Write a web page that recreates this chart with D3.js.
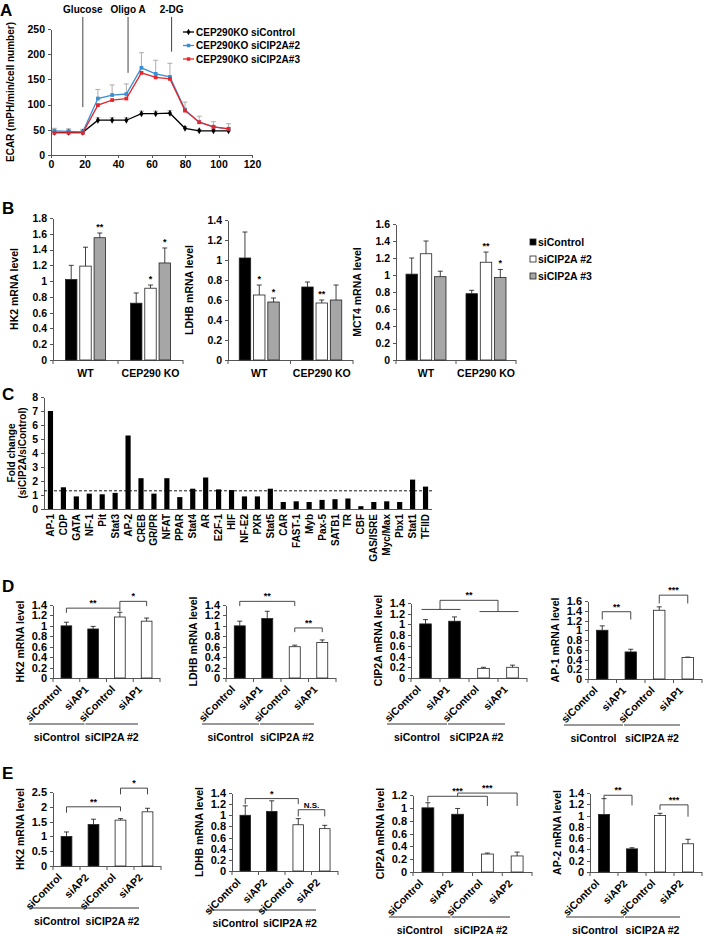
<!DOCTYPE html>
<html><head><meta charset="utf-8">
<script src="https://cdnjs.cloudflare.com/ajax/libs/d3/7.8.5/d3.min.js"></script>
<style>
body{margin:0;background:#fff}
svg text{font-family:"Liberation Sans",Arial,sans-serif;font-weight:bold;fill:#000}
.axis path,.axis line{stroke:#555;shape-rendering:crispEdges}
</style></head><body><div id="fig"></div>
<script>
// ---------------- data ----------------
// A: ECAR time course
var timePts   = [2, 10.5, 19, 28, 36.5, 45, 54, 62.5, 71, 80, 88.5, 97, 106];
var ecarCtrl  = [45, 45, 45, 69, 69, 69, 82, 82, 83, 53, 48, 48, 48];
var ecarCtrlE = [4, 4, 4, 5, 5, 5, 5, 5, 5, 3, 3, 3, 3];
var ecar2     = [48, 47, 46, 112, 119, 121, 173, 161, 155, 90, 65, 56, 52];
var ecar2E    = [5, 5, 5, 18, 20, 20, 30, 27, 27, 15, 12, 10, 10];
var ecar3     = [44, 44, 44, 99, 109, 112, 163, 154, 151, 88, 65, 56, 52];
var ecarNames = ["CEP290KO siControl", "CEP290KO siCIP2A#2", "CEP290KO siCIP2A#3"];
var injNames  = ["Glucose", "Oligo A", "2-DG"];
var injTimes  = [19, 46, 72];
var injLow    = [95, 163, 205];

// B: mRNA levels, WT vs CEP290 KO
var bGroups = ["WT", "CEP290 KO"];
var bSeries = ["siControl", "siCIP2A #2", "siCIP2A #3"];
var hk2B    = [[1.02, 1.19, 1.55], [0.72, 0.91, 1.23]];
var hk2BE   = [[0.18, 0.24, 0.06], [0.13, 0.04, 0.19]];
var hk2BSig = [["", "", "**"], ["", "*", "*"]];
var ldhbB    = [[1.02, 0.65, 0.58], [0.73, 0.57, 0.60]];
var ldhbBE   = [[0.26, 0.10, 0.04], [0.05, 0.03, 0.15]];
var ldhbBSig = [["", "*", "*"], ["", "**", ""]];
var mct4B    = [[1.01, 1.25, 0.98], [0.78, 1.15, 0.97]];
var mct4BE   = [[0.19, 0.15, 0.065], [0.04, 0.12, 0.095]];
var mct4BSig = [["", "", ""], ["", "**", "*"]];

// C: fold change of TF binding
var tfNames = ["AP-1","CDP","GATA","NF-1","Pit","Stat3","AP-2","CREB","GR/PR","NFAT","PPAR","Stat4","AR","E2F-1","HIF",
  "NF-E2","PXR","Stat5","CAR","FAST-1","Myb","Pax-5","SATB1","TR","CBF","GAS/ISRE","Myc/Max","Pbx1","Stat1","TFIID"];
var tfFold = [7.0,1.55,0.9,1.1,1.05,1.15,5.25,2.2,1.1,2.2,0.85,1.45,2.25,1.4,1.35,
  0.9,0.9,1.45,0.5,0.55,0.5,0.65,0.7,0.75,0.2,0.5,0.55,0.5,2.1,1.6];
var foldCut = 1.3;

// D / E: knockdown experiments
var groupNames = ["siControl", "siCIP2A #2"];
var dLabels = ["siControl", "siAP1", "siControl", "siAP1"];
var eLabels = ["siControl", "siAP2", "siControl", "siAP2"];
var hk2D   = [1.0, 0.94, 1.17, 1.09],  hk2DE   = [0.07, 0.05, 0.09, 0.06];
var ldhbD  = [1.0, 1.14, 0.60, 0.68],  ldhbDE  = [0.09, 0.14, 0.03, 0.05];
var cip2aD = [1.01, 1.06, 0.18, 0.20], cip2aDE = [0.08, 0.08, 0.02, 0.04];
var ap1D   = [1.0, 0.555, 1.41, 0.44], ap1DE   = [0.09, 0.055, 0.07, 0.01];
var hk2E   = [1.0, 1.40, 1.55, 1.83],  hk2EE   = [0.15, 0.18, 0.05, 0.12];
var ldhbE  = [1.0, 1.07, 0.83, 0.76],  ldhbEE  = [0.17, 0.19, 0.11, 0.06];
var cip2aE = [1.0, 0.90, 0.28, 0.25],  cip2aEE = [0.08, 0.09, 0.015, 0.06];
var ap2E   = [1.02, 0.41, 1.0, 0.50],  ap2EE   = [0.28, 0.02, 0.04, 0.08];
// brackets: bar a to bar b, line level, leg ends (data units)
var hk2DBr  = [{a:0,b:2,y:1.34,ya:1.25,yb:1.28,t:"**"}, {a:2,b:3,y:1.47,ya:1.34,yb:1.38,t:"*"}];
var ldhbDBr = [{a:0,b:2,y:1.47,ya:1.38,yb:1.38,t:"**"}, {a:2,b:3,y:0.96,ya:0.88,yb:0.88,t:"**"}];
var cip2aDBr = {left:1.28, right:1.24, top:1.45, t:"**"};
var ap1DBr  = [{a:0,b:1,y:1.38,ya:1.22,yb:1.22,t:"**"}, {a:2,b:3,y:1.72,ya:1.55,yb:1.55,t:"***"}];
var hk2EBr  = [{a:0,b:2,y:2.0,ya:1.8,yb:1.85,t:"**"}, {a:2,b:3,y:2.63,ya:2.42,yb:2.42,t:"*"}];
var ldhbEBr = [{a:0,b:2,y:1.3,ya:1.2,yb:1.2,t:"*"}, {a:2,b:3,y:1.1,ya:0.98,yb:0.98,t:"N.S."}];
var cip2aEBr = [{a:0,b:2,y:1.18,ya:1.1,yb:1.03,t:"***"}, {a:1,b:3,y:1.23,ya:1.18,yb:1.03,t:"***"}];
var ap2EBr  = [{a:0,b:1,y:1.36,ya:1.3,yb:1.18,t:"**"}, {a:2,b:3,y:1.19,ya:1.1,yb:0.98,t:"***"}];

// ---------------- drawing ----------------
var svg = d3.select("#fig").append("svg").attr("width", 709).attr("height", 936);
var ink = "#111", axisCol = "#555";

function tickVals(max, step) {
  return d3.range(0, max + step / 2, step).map(function(v) { return +v.toFixed(2); });
}
function letter(t, x, y) {
  svg.append("text").attr("x", x).attr("y", y).style("font-size", "17px").text(t);
}
function yLabel(g, lines, x, yc, size) {
  lines.forEach(function(s, i) {
    g.append("text").attr("transform", "translate(" + (x + i * 11) + "," + yc + ") rotate(-90)")
      .attr("text-anchor", "middle").attr("dy", "0.35em").style("font-size", size + "px").text(s);
  });
}
function leftAxis(g, y, x, vals, size) {
  var a = g.append("g").attr("class", "axis").attr("transform", "translate(" + x + ",0)")
    .call(d3.axisLeft(y).tickValues(vals).tickSize(3).tickSizeOuter(0).tickFormat(d3.format("~g")));
  a.selectAll("text").style("font-size", size + "px");
  return a;
}
function errBar(g, cx, y1, y2, w, col) {
  g.append("line").attr("x1", cx).attr("x2", cx).attr("y1", y1).attr("y2", y2).attr("stroke", col || ink).attr("stroke-width", 0.8);
  g.append("line").attr("x1", cx - w).attr("x2", cx + w).attr("y1", y2).attr("y2", y2).attr("stroke", col || ink).attr("stroke-width", 0.8);
}

// ===== Panel A =====
letter("A", 0, 16);
var gA = svg.append("g");
var ax = d3.scaleLinear().domain([0, 120]).range([51, 252]);
var ay = d3.scaleLinear().domain([0, 250]).range([155, 29]);
leftAxis(gA, ay, ax(0), d3.range(0, 251, 50), 10.5);
var xa = gA.append("g").attr("class", "axis").attr("transform", "translate(0," + ay(0) + ")")
  .call(d3.axisBottom(ax).tickValues(d3.range(0, 121, 20)).tickSize(3).tickSizeOuter(0));
xa.selectAll("text").style("font-size", "10.5px");
yLabel(gA, ["ECAR (mPH/min/cell number)"], 10, 92, 10);

injTimes.forEach(function(t, i) {
  gA.append("line").attr("x1", ax(t)).attr("x2", ax(t)).attr("y1", ay(274)).attr("y2", ay(injLow[i]))
    .attr("stroke", "#444").attr("stroke-width", 1);
  gA.append("text").attr("x", ax(t)).attr("y", 13).attr("text-anchor", "middle").style("font-size", "10px").text(injNames[i]);
});

var aSeries = [
  {v: ecarCtrl, e: ecarCtrlE, c: "#000", sym: d3.symbolDiamond},
  {v: ecar2, e: ecar2E, c: "#3a8fd4", sym: d3.symbolSquare},
  {v: ecar3, e: null, c: "#e5262c", sym: d3.symbolSquare}
];
aSeries.forEach(function(s) {
  if (!s.e) return;
  s.v.forEach(function(v, i) { errBar(gA, ax(timePts[i]), ay(v), ay(v + s.e[i]), 2.5, "#999"); });
});
var lineA = d3.line().x(function(d, i) { return ax(timePts[i]); }).y(function(d) { return ay(d); });
aSeries.forEach(function(s) {
  gA.append("path").datum(s.v).attr("d", lineA).attr("fill", "none").attr("stroke", s.c).attr("stroke-width", 1.3);
  gA.selectAll(null).data(s.v).enter().append("path")
    .attr("transform", function(d, i) { return "translate(" + ax(timePts[i]) + "," + ay(d) + ")"; })
    .attr("d", d3.symbol().type(s.sym).size(14)).attr("fill", s.c);
});
ecarNames.forEach(function(n, i) {
  var ly = 32 + i * 13.5;
  gA.append("line").attr("x1", 183).attr("x2", 194).attr("y1", ly).attr("y2", ly).attr("stroke", aSeries[i].c).attr("stroke-width", 1.3);
  gA.append("path").attr("transform", "translate(188.5," + ly + ")").attr("d", d3.symbol().type(aSeries[i].sym).size(12)).attr("fill", aSeries[i].c);
  gA.append("text").attr("x", 196).attr("y", ly).attr("dy", "0.35em").style("font-size", "10px").text(n);
});

// ===== Panel B =====
letter("B", 2, 214);
var bFill = ["#000", "#fff", "#a6a6a6"];
function panelB(cfg, vals, errs, sig, ylab) {
  var g = svg.append("g");
  var y = d3.scaleLinear().domain([0, cfg.max]).range([360, cfg.yTop]);
  var xg = d3.scaleBand().domain(bGroups).range([cfg.x0, cfg.x1]);
  var xs = d3.scaleBand().domain(bSeries).range([0, 40]).paddingInner(0.2);
  var off = (xg.bandwidth() - 40) / 2;
  leftAxis(g, y, cfg.x0, tickVals(cfg.max, 0.2), 10.5);
  g.append("line").attr("x1", cfg.x0).attr("x2", cfg.x1).attr("y1", 360.5).attr("y2", 360.5).attr("stroke", axisCol);
  [cfg.x0, xg(bGroups[1]), cfg.x1].forEach(function(tx) {
    g.append("line").attr("x1", tx).attr("x2", tx).attr("y1", 360).attr("y2", 364).attr("stroke", axisCol);
  });
  bGroups.forEach(function(grp, gi) {
    bSeries.forEach(function(s, si) {
      var bx = xg(grp) + off + xs(s), v = vals[gi][si], cx = bx + xs.bandwidth() / 2;
      errBar(g, cx, y(v), y(v + errs[gi][si]), 2.5);
      g.append("rect").attr("x", bx).attr("y", y(v)).attr("width", xs.bandwidth()).attr("height", y(0) - y(v))
        .attr("fill", bFill[si]).attr("stroke", "#222").attr("stroke-width", 0.8);
      if (sig[gi][si]) g.append("text").attr("x", cx).attr("y", y(v + errs[gi][si]) - 3).attr("text-anchor", "middle")
        .style("font-size", "9px").text(sig[gi][si]);
    });
    g.append("text").attr("x", xg(grp) + xg.bandwidth() / 2).attr("y", 377).attr("text-anchor", "middle")
      .style("font-size", "10.5px").text(grp);
  });
  yLabel(g, [ylab], cfg.x0 - 39, (360 + cfg.yTop) / 2, 10.5);
}
panelB({x0: 53, x1: 183, yTop: 218, max: 1.8}, hk2B, hk2BE, hk2BSig, "HK2 mRNA level");
panelB({x0: 228, x1: 353, yTop: 220, max: 1.4}, ldhbB, ldhbBE, ldhbBSig, "LDHB mRNA level");
panelB({x0: 396, x1: 516, yTop: 224, max: 1.6}, mct4B, mct4BE, mct4BSig, "MCT4 mRNA level");
var gLeg = svg.append("g");
bSeries.forEach(function(s, i) {
  var ly = 242 + i * 17;
  gLeg.append("rect").attr("x", 530).attr("y", ly - 3).attr("width", 6).attr("height", 6)
    .attr("fill", bFill[i]).attr("stroke", "#222").attr("stroke-width", 0.8);
  gLeg.append("text").attr("x", 538).attr("y", ly).attr("dy", "0.35em").style("font-size", "10.5px").text(s);
});

// ===== Panel C =====
letter("C", 2, 400);
var gC = svg.append("g");
var cy = d3.scaleLinear().domain([0, 8]).range([509, 397]);
var cx = d3.scaleBand().domain(tfNames).range([44, 432]).paddingInner(0.6).paddingOuter(0.3);
leftAxis(gC, cy, 44, d3.range(0, 9), 10.5);
gC.append("line").attr("x1", 44).attr("x2", 432).attr("y1", cy(0) + 0.5).attr("y2", cy(0) + 0.5).attr("stroke", axisCol);
gC.selectAll("rect.tf").data(tfFold).enter().append("rect").attr("class", "tf")
  .attr("x", function(d, i) { return cx(tfNames[i]); }).attr("width", cx.bandwidth())
  .attr("y", function(d) { return cy(d); }).attr("height", function(d) { return cy(0) - cy(d); }).attr("fill", "#000");
gC.append("line").attr("x1", 44).attr("x2", 432).attr("y1", cy(foldCut)).attr("y2", cy(foldCut))
  .attr("stroke", "#000").attr("stroke-width", 0.9).attr("stroke-dasharray", "3,2");
gC.selectAll("text.tf").data(tfNames).enter().append("text").attr("class", "tf")
  .attr("transform", function(d) { return "translate(" + (cx(d) + cx.bandwidth() / 2) + ",514) rotate(-90)"; })
  .attr("text-anchor", "end").attr("dy", "0.35em").style("font-size", "10px").text(function(d) { return d; });
yLabel(gC, ["Fold change", "(siCIP2A/siControl)"], 11, 453, 10);

// ===== Panels D and E =====
letter("D", 2, 592);
letter("E", 2, 779);
function smallBars(cfg, vals, errs, labels, brackets, ylab) {
  var g = svg.append("g");
  var y = d3.scaleLinear().domain([0, cfg.max]).range([cfg.y0, cfg.yTop]);
  var x = d3.scaleBand().domain(d3.range(4)).range([cfg.x0, cfg.x1]).paddingInner(0.6).paddingOuter(0.3);
  var step = x.step(), bw = x.bandwidth();
  function cxOf(i) { return x(i) + bw / 2; }
  leftAxis(g, y, cfg.x0, tickVals(cfg.max, cfg.step), 11);
  g.append("line").attr("x1", cfg.x0).attr("x2", cfg.x1).attr("y1", cfg.y0 + 0.5).attr("y2", cfg.y0 + 0.5).attr("stroke", axisCol);
  d3.range(5).forEach(function(k) {
    var tx = cfg.x0 + k * step;
    g.append("line").attr("x1", tx).attr("x2", tx).attr("y1", cfg.y0).attr("y2", cfg.y0 + 4).attr("stroke", axisCol);
  });
  vals.forEach(function(v, i) {
    errBar(g, cxOf(i), y(v), y(v + errs[i]), 2.5);
    g.append("rect").attr("x", x(i)).attr("y", y(v)).attr("width", bw).attr("height", y(0) - y(v))
      .attr("fill", i < 2 ? "#000" : "#fff").attr("stroke", "#222").attr("stroke-width", 0.8);
    g.append("text").attr("transform", "translate(" + (cxOf(i) - 4) + "," + (cfg.y0 + 12) + ") rotate(-45)")
      .attr("text-anchor", "end").style("font-size", "10.5px").text(labels[i]);
  });
  groupNames.forEach(function(n, gi) {
    var gx1 = cfg.x0 + gi * 2 * step - 24 + (gi ? 3 : 0), gx2 = cfg.x0 + (gi + 1) * 2 * step - 22;
    g.append("line").attr("x1", gx1).attr("x2", gx2).attr("y1", cfg.y0 + cfg.gl).attr("y2", cfg.y0 + cfg.gl).attr("stroke", "#333");
    g.append("text").attr("x", (gx1 + gx2) / 2).attr("y", cfg.y0 + cfg.gl + 17).attr("text-anchor", "middle")
      .style("font-size", "10.5px").text(n);
  });
  var brk = function(pts) {
    g.append("path").attr("d", d3.line()(pts)).attr("fill", "none").attr("stroke", "#333").attr("stroke-width", 0.9);
  };
  if (Array.isArray(brackets)) {
    brackets.forEach(function(b) {
      var xa = cxOf(b.a), xb = cxOf(b.b);
      brk([[xa, y(b.ya)], [xa, y(b.y)], [xb, y(b.y)], [xb, y(b.yb)]]);
      g.append("text").attr("x", (xa + xb) / 2).attr("y", y(b.y) - 2).attr("text-anchor", "middle")
        .style("font-size", b.t === "N.S." ? "8px" : "9px").text(b.t);
    });
  } else {
    var b = brackets;
    brk([[cxOf(0) - 4, y(b.left)], [cxOf(1) + 6, y(b.left)]]);
    brk([[cxOf(2) - 4, y(b.right)], [cxOf(3) + 6, y(b.right)]]);
    var ml = (cxOf(0) + cxOf(1)) / 2, mr = (cxOf(2) + cxOf(3)) / 2;
    brk([[ml, y(b.left)], [ml, y(b.top)], [mr, y(b.top)], [mr, y(b.right)]]);
    g.append("text").attr("x", (ml + mr) / 2).attr("y", y(b.top) - 2).attr("text-anchor", "middle").style("font-size", "9px").text(b.t);
  }
  yLabel(g, [ylab], cfg.x0 - 33, (cfg.y0 + cfg.yTop) / 2, 10.5);
}
smallBars({x0: 53, x1: 160, y0: 678, yTop: 605, max: 1.4, step: 0.2, gl: 46}, hk2D, hk2DE, dLabels, hk2DBr, "HK2 mRNA level");
smallBars({x0: 226, x1: 336, y0: 678, yTop: 605, max: 1.4, step: 0.2, gl: 46}, ldhbD, ldhbDE, dLabels, ldhbDBr, "LDHB mRNA level");
smallBars({x0: 411, x1: 527, y0: 678, yTop: 603, max: 1.4, step: 0.2, gl: 46}, cip2aD, cip2aDE, dLabels, cip2aDBr, "CIP2A mRNA level");
smallBars({x0: 588, x1: 702, y0: 679, yTop: 601, max: 1.6, step: 0.2, gl: 46}, ap1D, ap1DE, dLabels, ap1DBr, "AP-1 mRNA level");
smallBars({x0: 53, x1: 161, y0: 866, yTop: 792, max: 2.5, step: 0.5, gl: 42}, hk2E, hk2EE, eLabels, hk2EBr, "HK2 mRNA level");
smallBars({x0: 232, x1: 338, y0: 871, yTop: 793, max: 1.4, step: 0.2, gl: 39}, ldhbE, ldhbEE, eLabels, ldhbEBr, "LDHB mRNA level");
smallBars({x0: 413, x1: 532, y0: 872, yTop: 795, max: 1.2, step: 0.2, gl: 45}, cip2aE, cip2aEE, eLabels, cip2aEBr, "CIP2A mRNA level");
smallBars({x0: 590, x1: 702, y0: 872, yTop: 793, max: 1.4, step: 0.2, gl: 45}, ap2E, ap2EE, eLabels, ap2EBr, "AP-2 mRNA level");
</script></body></html>
